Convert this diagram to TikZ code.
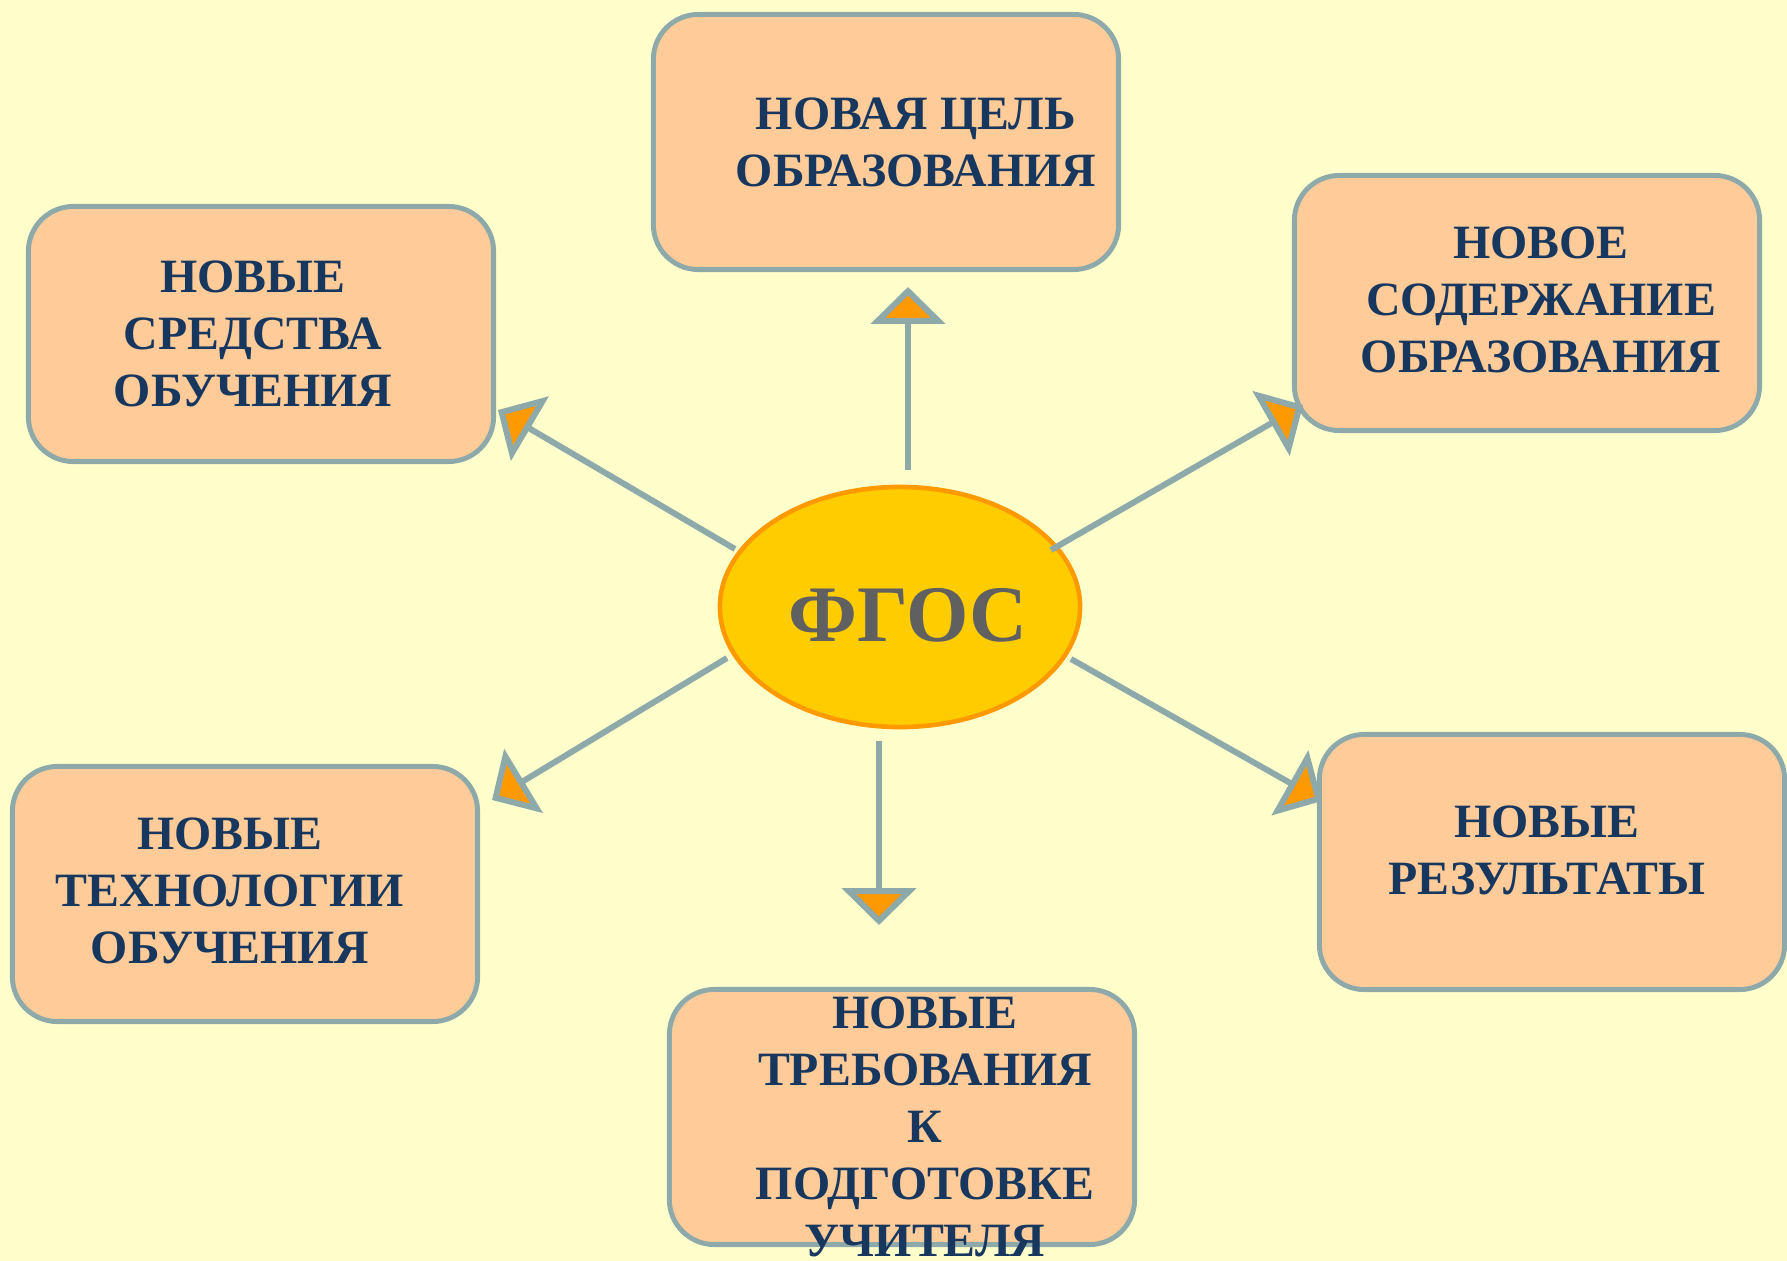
\documentclass[tikz,border=0pt]{standalone}
\usepackage{fontspec}
\setmainfont{Liberation Serif}
\usetikzlibrary{positioning}
\usetikzlibrary{shapes.geometric}
\usetikzlibrary{arrows.meta}
\definecolor{bgyellow}{HTML}{FFFFCC}
\definecolor{boxfill}{HTML}{FFCC99}
\definecolor{boxline}{HTML}{8EA9AA}
\definecolor{txtblue}{HTML}{17375E}
\definecolor{ovalfill}{HTML}{FFCC00}
\definecolor{ovalline}{HTML}{FF9900}
\definecolor{fgosgray}{HTML}{606060}
\tikzset{goalbox/.style={draw=boxline, fill=boxfill, line width=1.4pt, rounded corners=12.8pt, minimum width=4.65cm, minimum height=2.55cm}}
\tikzset{goaltext/.style={text=txtblue, font=\bfseries\fontsize{13.6}{16.2}\selectfont, align=center, inner sep=0pt}}
\tikzset{fgosarrow/.style={draw=boxline, line width=1.7pt, -{Triangle[width=21pt,length=10.5pt,fill=ovalline]}}}

\begin{document}
\begin{tikzpicture}[x=0.01cm,y=-0.01cm]
\fill[bgyellow] (0,0) rectangle (1787,1261);
\useasboundingbox (0,0) rectangle (1787,1261);
% boxes
\node[goalbox] (cel) at (886,142) {};
\node[goalbox] (sredstva) at (261,334) {};
\node[goalbox] (soderzh) at (1527,303) {};
\node[goalbox] (tehnol) at (245,894) {};
\node[goalbox] (rezult) at (1552,862) {};
\node[goalbox] (treb) at (902,1117) {};
% texts
\node[goaltext] (celtxt) at (916,142) {НОВАЯ ЦЕЛЬ\\ОБРАЗОВАНИЯ};
\node[goaltext] (sredstvatxt) at (253,334) {НОВЫЕ\\СРЕДСТВА\\ОБУЧЕНИЯ};
\node[goaltext] (soderzhtxt) at (1541,300) {НОВОЕ\\СОДЕРЖАНИЕ\\ОБРАЗОВАНИЯ};
\node[goaltext] (tehnoltxt) at (230,891) {НОВЫЕ\\ТЕХНОЛОГИИ\\ОБУЧЕНИЯ};
\node[goaltext] (rezulttxt) at (1547,850) {НОВЫЕ\\РЕЗУЛЬТАТЫ};
\node[goaltext] (trebtxt) at (925,1127) {НОВЫЕ\\ТРЕБОВАНИЯ\\К\\ПОДГОТОВКЕ\\УЧИТЕЛЯ};
% centre
\node[ellipse, draw=ovalline, fill=ovalfill, line width=1.3pt, minimum width=3.6cm, minimum height=2.4cm] (fgos) at (900,607) {};
\node[text=fgosgray, font=\bfseries\fontsize{22.8}{26}\selectfont, inner sep=0pt] (fgostxt) at (908,615) {ФГОС};
% arrows
\coordinate (up1) at (908,470);  \coordinate (up2) at (908,287);
\coordinate (lt1) at (735,549);  \coordinate (lt2) at (498,410);
\coordinate (rt1) at (1051,550); \coordinate (rt2) at (1303,405);
\coordinate (lb1) at (727,658);  \coordinate (lb2) at (492,800);
\coordinate (rb1) at (1071,659); \coordinate (rb2) at (1322,801);
\coordinate (dn1) at (879,741);  \coordinate (dn2) at (879,925);
\foreach \a in {up,lt,rt,lb,rb,dn}{
\draw[fgosarrow] (\a1) -- (\a2);
}
\end{tikzpicture}
\end{document}
